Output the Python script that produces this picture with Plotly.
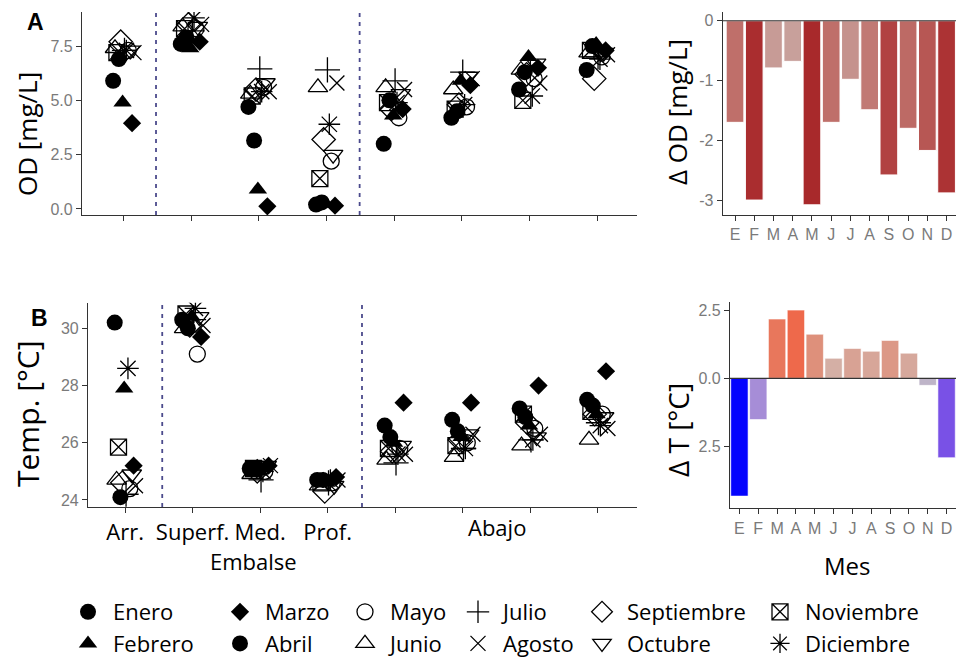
import plotly.graph_objects as go

W, H = 956, 658

# ---------------- data ----------------
months = ["Enero", "Febrero", "Marzo", "Abril", "Mayo", "Junio", "Julio",
          "Agosto", "Septiembre", "Octubre", "Noviembre", "Diciembre"]
sites = ["Arr.", "Superf.", "Med.", "Prof.", "Abajo 1", "Abajo 2", "Abajo 3", "Abajo 4"]
site_labels = ["Arr.", "Superf.", "Med.", "Prof.", "", "", "", ""]

# OD [mg/L] per month, one value per site (Arr., Superf., Med., Prof., Abajo 1-4)
od = {
    "Enero":      [5.9, 7.6, 4.7, 0.20, 3.0, 4.2, 5.5, 6.4],
    "Febrero":    [4.9, 7.4, 0.9, 0.25, 4.3, 5.9, 7.0, 7.6],
    "Marzo":      [3.95, 7.7, 0.12, 0.15, 4.6, 5.7, 6.5, 7.3],
    "Abril":      [6.9, 7.9, 3.15, 0.30, 5.0, 4.5, 6.3, 7.5],
    "Mayo":       [7.3, 8.3, 5.6, 2.2, 4.2, 4.7, 6.0, 7.0],
    "Junio":      [7.4, 8.4, 5.3, 5.6, 5.6, 5.5, 6.4, 7.2],
    "Julio":      [7.3, 8.2, 6.45, 6.4, 5.9, 6.3, 6.4, 7.0],
    "Agosto":     [7.2, 8.5, 5.4, 5.8, 5.5, 6.0, 5.8, 7.1],
    "Septiembre": [7.7, 8.5, 5.5, 3.2, 4.6, 4.8, 6.2, 6.0],
    "Octubre":    [7.3, 8.4, 5.8, 2.5, 5.3, 6.1, 6.7, 7.2],
    "Noviembre":  [7.2, 8.3, 5.2, 1.4, 4.9, 4.6, 5.0, 7.3],
    "Diciembre":  [7.3, 8.8, 5.4, 3.9, 4.9, 4.8, 5.2, 6.9],
}

# Temperature [°C] per month, one value per site
temp = {
    "Enero":      [30.2, 30.3, 25.1, 24.7, 26.6, 26.8, 27.2, 27.5],
    "Febrero":    [27.9, 30.4, 25.0, 24.6, 26.0, 26.2, 26.6, 27.0],
    "Marzo":      [25.2, 29.7, 25.2, 24.8, 27.4, 27.4, 28.0, 28.5],
    "Abril":      [24.1, 30.0, 25.1, 24.7, 26.2, 26.4, 26.9, 27.3],
    "Mayo":       [24.4, 29.1, 25.0, 24.6, 25.8, 26.0, 26.5, 27.0],
    "Junio":      [24.7, 30.0, 24.9, 24.5, 25.4, 25.5, 25.9, 26.1],
    "Julio":      [24.2, 30.3, 24.7, 24.6, 25.3, 25.8, 26.1, 26.7],
    "Agosto":     [24.5, 30.1, 25.2, 24.7, 25.6, 26.3, 26.3, 26.5],
    "Septiembre": [24.6, 30.1, 25.0, 24.3, 25.7, 26.1, 26.7, 27.0],
    "Octubre":    [24.9, 30.4, 25.2, 24.5, 25.9, 26.3, 26.2, 26.9],
    "Noviembre":  [25.85, 30.5, 25.1, 24.6, 25.8, 25.9, 27.0, 27.1],
    "Diciembre":  [28.6, 30.7, 25.0, 24.7, 25.6, 25.8, 26.1, 26.6],
}

mes = ["E", "F", "M", "A", "M", "J", "J", "A", "S", "O", "N", "D"]
delta_od = [-1.7, -3.0, -0.79, -0.68, -3.08, -1.7, -0.98, -1.49, -2.58, -1.8, -2.17, -2.88]
delta_t = [-4.35, -1.52, 2.19, 2.52, 1.63, 0.74, 1.1, 1.0, 1.4, 0.93, -0.26, -2.93]

# ---------------- styles ----------------
symbols = {
    "Enero": ("circle", 16), "Febrero": ("triangle-up", 16), "Marzo": ("diamond", 14),
    "Abril": ("circle", 16), "Mayo": ("circle-open", 16), "Junio": ("triangle-up-open", 17),
    "Julio": ("cross-thin-open", 18), "Agosto": ("x-thin-open", 15),
    "Septiembre": ("diamond-open", 18), "Octubre": ("triangle-down-open", 17),
    "Noviembre": ("square-x-open", 16), "Diciembre": ("asterisk-open", 18),
}

TICK_GRAY = "#7a7a7a"
AX = "#333333"
FONT_TXT = "Open Sans"
FONT_TICK = "Liberation Sans"

def px_x(p):
    return p / W

def px_y(p):
    return 1 - p / H

fig = go.Figure()

# jitter-like fixed dodge per month (visual spread only)
dodge = [((i * 5) % 12 - 5.5) * 0.028 for i in range(12)]

for i, m in enumerate(months):
    sym, size = symbols[m]
    is_open = sym.endswith("open")
    marker = dict(symbol=sym, size=size, color="black",
                  line=dict(color="black", width=1.3 if is_open else 0))
    xs = [k + dodge[i] for k in range(len(sites))]
    leg = "legend" if i // 2 == 0 else f"legend{i // 2 + 1}"
    fig.add_trace(go.Scatter(x=xs, y=od[m], mode="markers", marker=marker, name=m,
                             xaxis="x", yaxis="y", legend=leg, showlegend=True,
                             legendgroup=m))
    fig.add_trace(go.Scatter(x=xs, y=temp[m], mode="markers", marker=marker, name=m,
                             xaxis="x3", yaxis="y3", showlegend=False, legendgroup=m))

# bars
fig.add_trace(go.Bar(x=list(range(12)), y=delta_od, xaxis="x2", yaxis="y2", showlegend=False,
                     marker=dict(color=delta_od, cmin=-3.1, cmax=-0.68,
                                 colorscale=[[0, "rgb(168,40,42)"], [0.58, "rgb(191,111,106)"],
                                             [1, "rgb(200,160,155)"]],
                                 line=dict(color="white", width=1))))
fig.add_trace(go.Bar(x=list(range(12)), y=delta_t, xaxis="x4", yaxis="y4", showlegend=False,
                     marker=dict(color=delta_t, cmin=-4.4, cmax=2.5,
                                 colorscale=[[0, "rgb(0,0,255)"], [0.21, "rgb(120,80,230)"],
                                             [0.413, "rgb(165,140,215)"], [0.6, "rgb(190,180,200)"],
                                             [0.638, "rgb(200,185,190)"], [0.745, "rgb(212,175,165)"],
                                             [0.87, "rgb(222,145,125)"], [1, "rgb(238,105,75)"]],
                                 line=dict(color="white", width=0.6))))

axis_common = dict(showline=True, linecolor=AX, linewidth=1.2, ticks="outside", ticklen=5,
                   tickcolor=AX, showgrid=False, zeroline=False,
                   tickfont=dict(family=FONT_TICK, size=16, color=TICK_GRAY))

fig.update_layout(
    width=W, height=H, margin=dict(l=0, r=0, t=0, b=0, autoexpand=False),
    paper_bgcolor="white", plot_bgcolor="white", bargap=0.08,
    xaxis=dict(axis_common, domain=[px_x(82), px_x(637)], range=[-0.614, 7.59],
               tickvals=list(range(8)), ticktext=[""] * 8, anchor="y"),
    yaxis=dict(axis_common, domain=[px_y(215), px_y(12)], range=[-0.28, 9.07],
               tickvals=[0, 2.5, 5, 7.5], ticktext=["0.0", "2.5", "5.0", "7.5"], anchor="x"),
    xaxis2=dict(axis_common, domain=[px_x(722.7), 1.0], range=[-0.64, 11.49],
                tickvals=list(range(12)), ticktext=mes, anchor="y2"),
    yaxis2=dict(axis_common, domain=[px_y(215), px_y(12)], range=[-3.25, 0.146],
                tickvals=[0, -1, -2, -3], ticktext=["0", "-1", "-2", "-3"], anchor="x2"),
    xaxis3=dict(axis_common, domain=[px_x(88), px_x(637)], range=[-0.55, 7.585],
                tickvals=list(range(8)), ticktext=site_labels, anchor="y3",
                tickfont=dict(family=FONT_TXT, size=22, color="black")),
    yaxis3=dict(axis_common, domain=[px_y(507), px_y(302.7)], range=[23.755, 30.895],
                tickvals=[24, 26, 28, 30], anchor="x3"),
    xaxis4=dict(axis_common, domain=[px_x(730), 1.0], range=[-0.5, 11.5],
                tickvals=list(range(12)), ticktext=mes, anchor="y4"),
    yaxis4=dict(axis_common, domain=[px_y(508.3), px_y(301.7)], range=[-4.8, 2.83],
                tickvals=[-2.5, 0, 2.5], ticktext=["2.5", "0.0", "2.5"], anchor="x4"),
)

# dashed separators
for xr, yr, xv in [("x", "y domain", 0.48), ("x", "y domain", 3.49),
                   ("x3", "y3 domain", 0.55), ("x3", "y3 domain", 3.51)]:
    fig.add_shape(type="line", xref=xr, yref=yr, x0=xv, x1=xv, y0=0, y1=1,
                  line=dict(color="#4b4a8c", width=1.8, dash="4px,5px"))
# zero lines on bar panels
for xr, yr in [("x2 domain", "y2"), ("x4 domain", "y4")]:
    fig.add_shape(type="line", xref=xr, yref=yr, x0=0, x1=1, y0=0, y1=0,
                  line=dict(color=AX, width=1.2), layer="above")

def ann(text, x, y, size, angle=0, bold=False, family=FONT_TXT):
    fig.add_annotation(text=f"<b>{text}</b>" if bold else text, x=px_x(x), y=px_y(y),
                       xref="paper", yref="paper", showarrow=False, textangle=angle,
                       font=dict(family=family, size=size, color="black"),
                       xanchor="center", yanchor="middle")

ann("OD [mg/L]", 27, 134, 26, angle=-90)
ann("Temp. [°C]", 27, 414, 30, angle=-90)
ann("Δ OD [mg/L]", 677, 112, 26, angle=-90)
ann("Δ T [°C]", 678, 430, 28, angle=-90)
ann("A", 35, 22, 23, bold=True, family="Liberation Sans")
ann("B", 39, 318, 23, bold=True, family="Liberation Sans")
ann("Embalse", 253, 561, 22)
ann("Abajo", 497, 527, 22)
ann("Mes", 847, 565, 24)

# legends: 6 columns of 2 entries
col_x = [88, 240, 365, 478, 602, 780]
legend_base = dict(yanchor="top", xanchor="left", bgcolor="rgba(0,0,0,0)",
                   font=dict(family=FONT_TXT, size=22, color="black"),
                   itemsizing="trace", itemwidth=40, orientation="v", tracegroupgap=0)
for j, cx in enumerate(col_x):
    key = "legend" if j == 0 else f"legend{j + 1}"
    fig.update_layout({key: dict(legend_base, x=px_x(cx - 25), y=px_y(591))})

fig.write_html("out.html")
